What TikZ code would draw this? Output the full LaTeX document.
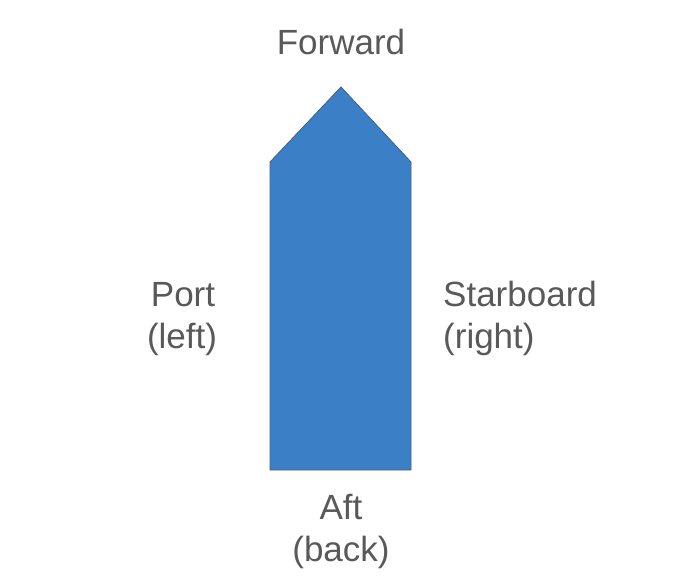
\documentclass[tikz,border=0pt]{standalone}
\usepackage{fontspec}
\setmainfont{Liberation Sans}
\usepackage{xcolor}
\usetikzlibrary{positioning}

\definecolor{hullblue}{HTML}{3B80C6}
\definecolor{hulledge}{HTML}{4A5E78}
\definecolor{labelgray}{HTML}{595959}

\tikzset{
    side/.style={text=labelgray, font=\fontsize{35}{42}\selectfont, inner sep=0pt, align=center},
}

\begin{document}
\begin{tikzpicture}[x=1pt,y=-1pt]

    \useasboundingbox (0,0) rectangle (691,583);

    % Draw the hull
    \coordinate (stern left) at (270,470);
    \coordinate (stern right) at (411,470);
    \coordinate (bow right) at (411,162);
    \coordinate (bow tip) at (341,87);
    \coordinate (bow left) at (270,162);
    \filldraw[fill=hullblue, draw=hulledge, line width=0.8pt]
        (stern left) -- (stern right) -- (bow right) -- (bow tip) -- (bow left) -- cycle;

    % Label the four sides
    \node[side, anchor=base] (forward) at (341,55) {Forward};
    \node[side, anchor=base] (port) at (183,306) {Port};
    \node[side, anchor=base] (portnote) at (182,348) {(left)};
    \node[side, anchor=base west] (starboard) at (443,306) {Starboard};
    \node[side, anchor=base west] (starboardnote) at (443,348) {(right)};
    \node[side, anchor=base] (aft) at (341,519) {Aft};
    \node[side, anchor=base] (aftnote) at (341,561) {(back)};

\end{tikzpicture}
\end{document}
